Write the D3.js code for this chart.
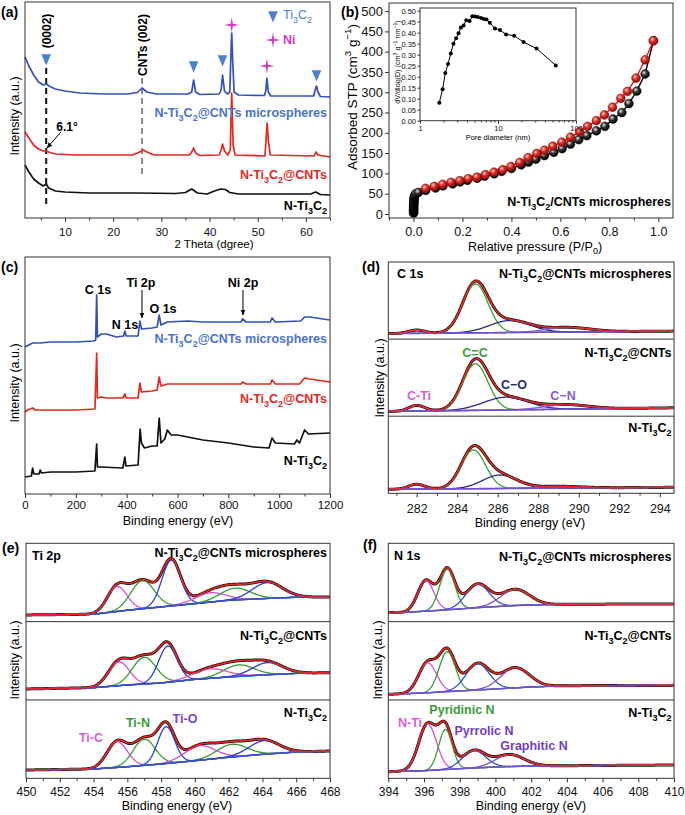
<!DOCTYPE html>
<html><head><meta charset="utf-8">
<script src="https://cdn.jsdelivr.net/npm/d3@7"></script>
<style>body{margin:0;background:#fff}</style>
</head><body><script>
const FONT = "'Liberation Sans', Arial, Helvetica, sans-serif";

// ================= DATA =================
// (a) XRD  [2theta, intensity a.u.]
const xrdTicks = [10, 20, 30, 40, 50, 60];
const xrdMinor = [5, 15, 25, 35, 45, 55, 65];
const xrdBlue = [[1.7,161],[2.5,152],[3.5,143],[4.5,136],[5.5,133],[6.1,134],[6.7,132],[8,129],[10,127],[13,125],[18,124],[23,124],[25,125.5],[26,130],[27,126],[29,124],[35.5,124],[36.3,126],[36.7,138],[37.1,126],[38,123.5],[42,124],[42.4,128],[42.7,143],[43.1,127],[43.7,124],[44.2,126],[44.5,173],[44.6,185],[44.8,158],[45.1,126],[46,123],[51.4,122.5],[51.7,128],[51.9,140],[52.2,126],[52.7,122],[61.6,122],[62,129],[62.2,132],[62.5,126],[63,121.5],[65,121]];
const xrdRed = [[1.7,86],[2.5,80],[3.5,73],[4.5,69],[5.5,67],[6.1,67],[6.6,66],[8,64],[12,63],[24,63],[25.5,66],[26.2,68],[27,66],[28.5,63],[35.8,63],[36.3,66],[36.7,70],[37.1,65],[38,62.5],[42,63],[42.4,68],[42.7,74],[43.1,67],[43.8,63],[44.3,68],[44.6,125],[44.9,73],[45.3,63],[51.5,62],[51.8,83],[51.95,95],[52.2,78],[52.6,63],[61.7,62],[62.1,66],[62.5,63],[65,61]];
const xrdBlack = [[1.7,53],[2.5,46],[3.5,39],[4.5,35],[5.5,32],[6.1,34],[6.6,30],[8,27],[10,26],[15,25],[25,25],[33,24.5],[35,25.5],[36.3,29],[37.5,25],[39.5,24],[41,27],[42.3,29],[43.3,28.5],[44.2,25.5],[46,24],[55,24],[61,24],[62,26],[63,23.5],[65,23]];
const xrdTi3C2Marks = [[6.1,160],[36.7,153],[42.7,159],[62.2,144]];
const xrdNiMarks = [[44.6,193],[51.9,152]];
const xrdDash0002 = [6.1, 150, 13];
const xrdDashCNT = [26, 140, 41];

// (b) N2 isotherm [P/P0, cm3/g]
const isoTicksX = [0, 0.2, 0.4, 0.6, 0.8, 1.0];
const isoMinorX = [-0.1, 0.1, 0.3, 0.5, 0.7, 0.9];
const isoTicksY = [0,50,100,150,200,250,300,350,400,450,500];
const isoAds = [[0.0005,2],[0.0005,5],[0.0006,8],[0.0006,11],[0.0007,14],[0.0008,17],[0.0009,20],[0.001,23],[0.0012,26],[0.0014,29],[0.0016,32],[0.0019,35],[0.0023,38],[0.003,41],[0.004,44],[0.006,47],[0.01,50],[0.02,53],[0.05,58],[0.09,64],[0.12,69],[0.16,74],[0.19,79],[0.22,83],[0.26,88],[0.29,93],[0.33,99],[0.36,105],[0.40,112],[0.44,121],[0.47,128],[0.50,135],[0.535,144],[0.573,152],[0.607,161],[0.641,172],[0.675,183],[0.708,193],[0.747,205],[0.782,216],[0.815,234],[0.851,250],[0.88,272],[0.912,303],[0.946,345],[0.98,427]];
const isoDes = [[0.98,427],[0.946,380],[0.909,335],[0.874,302],[0.847,285],[0.813,263],[0.78,244],[0.747,230],[0.711,216],[0.678,203],[0.641,189],[0.606,177],[0.569,167],[0.535,157],[0.503,149],[0.468,139],[0.434,127],[0.398,117],[0.365,109],[0.329,103],[0.294,97],[0.259,91],[0.224,87],[0.189,82],[0.153,78],[0.119,73],[0.085,68],[0.049,63]];
// inset: pore size distribution [nm, dV/dlogD]
const psdTicksY = [0,0.05,0.10,0.15,0.20,0.25,0.30,0.35,0.40,0.45,0.50];
const psdTicksX = [1, 10, 100];
const psd = [[1.77,0.082],[1.95,0.143],[2.11,0.217],[2.29,0.258],[2.48,0.305],[2.68,0.35],[2.9,0.375],[3.12,0.397],[3.34,0.423],[3.62,0.433],[3.92,0.456],[4.33,0.453],[4.69,0.474],[5.08,0.473],[5.5,0.471],[6.07,0.467],[6.58,0.462],[7.13,0.46],[7.87,0.445],[9.14,0.419],[10.6,0.412],[12.7,0.392],[16.1,0.386],[21.3,0.357],[31.2,0.328],[55,0.251]];

// (c) XPS survey [eV, intensity a.u.]
const surveyTicks = [0,200,400,600,800,1000,1200];
const surveyMinor = [100,300,500,700,900,1100];
const surveyBlue = [[0,147],[15,149],[30,151],[60,151],[100,152],[200,152],[270,153],[278,154],[282,199],[285,157],[300,160],[320,160],[360,157],[388,158],[393,163],[398,158],[445,158],[452,173],[458,165],[500,166],[520,167],[528,179],[535,169],[560,172],[640,173],[700,172],[850,172],[856,175],[870,172],[965,172],[972,176],[985,172],[1085,173],[1100,177],[1120,177],[1200,174]];
const surveyRed = [[0,82],[10,84],[30,86],[40,84],[100,84],[200,84],[275,85],[282,141],[285,96],[300,97],[320,96],[385,96],[393,100],[398,96],[445,96],[452,111],[458,102],[500,103],[520,104],[528,117],[535,108],[560,110],[640,110],[850,110],[856,112],[870,110],[965,110],[972,114],[985,110],[1080,110],[1100,116],[1120,115],[1200,112]];
const surveyBlack = [[0,17],[25,18],[30,26],[35,20],[55,20],[60,24],[65,21],[100,22],[200,22],[275,23],[282,50],[285,27],[300,27],[385,26],[393,37],[397,28],[445,29],[453,65],[458,51],[470,46],[500,48],[520,48],[528,76],[535,51],[550,55],[560,64],[575,59],[600,59],[700,54],[800,51],[900,47],[960,46],[972,56],[985,51],[1060,50],[1070,54],[1080,51],[1100,64],[1115,60],[1200,61]];

// (d) C 1s fits: sub-panels top->bottom ; components C-Ti, C=C, C-O, C-N
const c1sTicks = [282,284,286,288,290,292,294];
const c1sMinor = [281,283,285,287,289,291,293];
const c1sCenters = [[282.0,284.9,286.6,289.5],[282.0,284.9,286.4,289.4],[282.0,284.8,286.1,289.0]];
const c1sHeights = [[3.3,49,12,4.5],[5.7,46.6,12.8,4.4],[4.8,38.7,13.5,1.8]];
const c1sSigmas  = [[0.4,0.62,1.0,1.1],[0.4,0.62,1.1,1.1],[0.4,0.6,0.85,1.1]];
const c1sBg = [[[280.6,5.5],[294.7,8]],[[280.6,4.7],[294.7,8.4]],[[280.6,4],[294.7,6]]];

// (e) Ti 2p fits; components Ti-C, Ti-N, Ti-O, Ti-C', Ti-N', Ti-O'
const ti2pTicks = [450,452,454,456,458,460,462,464,466,468];
const ti2pMinor = [451,453,455,457,459,461,463,465,467];
const ti2pCenters = [[455.4,456.9,458.6,460.9,462.4,464.3],[455.5,457.0,458.4,460.9,462.6,464.3],[455.4,457.0,458.3,460.3,462.2,464.1]];
const ti2pHeights = [[24.9,28,45.7,9.3,11.7,15.8],[23.7,26.6,36.2,9.4,11.4,12.1],[25.7,26.3,36.8,14.5,12.7,13.5]];
const ti2pSigmas  = [[0.58,0.7,0.55,0.9,0.9,0.9],[0.62,0.7,0.55,1.0,0.9,0.9],[0.6,0.65,0.5,0.9,0.9,0.9]];
const ti2pBg = [
  [[450,6.7],[454,7.4],[456,11.4],[458,14.7],[460,18],[462,21.4],[464,23],[466,24.4],[468,24.7]],
  [[450,11],[454,12.3],[456,15],[458,17],[460,20.6],[462,23],[464,25],[466,26.6],[468,27.3]],
  [[450,8.3],[454,9.3],[456,11.6],[458,14.3],[460,17.6],[462,21],[464,24],[466,26.3],[468,27.3]]];

// (f) N 1s fits; components N-Ti, pyridinic N, pyrrolic N, graphitic N
const n1sTicks = [394,396,398,400,402,404,406,408,410];
const n1sMinor = [395,397,399,401,403,405,407,409];
const n1sCenters = [[396.1,397.3,399.0,401.1],[396.2,397.3,399.0,401.1],[396.2,397.2,398.8,400.8]];
const n1sHeights = [[30.5,40.6,23.4,16.3],[30,40,26.3,20.2],[46.5,40,17.5,12]];
const n1sSigmas  = [[0.45,0.42,0.65,0.8],[0.5,0.45,0.65,0.8],[0.5,0.38,0.65,0.8]];
const n1sBg = [
  [[394,9],[395,9.3],[396,10.4],[397,11.4],[398,12.7],[399,14],[400,15],[401,16],[402,16.7],[404,17.4],[410,17.7]],
  [[394,5.6],[396,7],[398,9],[400,11],[402,13],[404,14.3],[410,14.6]],
  [[394,6.6],[396,7.6],[398,9.6],[400,11.3],[402,12.3],[404,12.6],[410,13.3]]];

// ================= STYLE =================
const BLUE_LINE = '#3350bd', BLUE_TXT = '#4a72d2', RED = '#e8261f', MAG = '#d63cc0', TRI = '#4a80d0';
const svg = d3.select('body').append('svg').attr('width', 685).attr('height', 815)
  .style('font-family', FONT);
const defs = svg.append('defs');
defs.append('marker').attr('id','arr').attr('viewBox','0 0 10 10').attr('refX',9).attr('refY',5)
  .attr('markerWidth',6).attr('markerHeight',6).attr('orient','auto-start-reverse')
  .append('path').attr('d','M0,1L10,5L0,9z').attr('fill','#000');

function rich(g, x, yc, s, o = {}) {
  const fs = o.size || 12;
  const y = yc + fs * 0.35;
  const t = g.append('text').attr('x', x).attr('y', y)
    .attr('font-family', FONT).attr('font-size', fs)
    .attr('font-weight', o.bold ? 'bold' : 'normal')
    .attr('fill', o.color || '#000')
    .attr('text-anchor', o.anchor || 'start');
  const parts = []; const re = /([_^])\{([^}]*)\}|([_^])(.)|([^_^]+)/g; let m;
  while ((m = re.exec(s))) {
    if (m[5] !== undefined) parts.push([m[5], 0]);
    else if (m[1]) parts.push([m[2], m[1] === '_' ? 1 : -1]);
    else parts.push([m[4], m[3] === '_' ? 1 : -1]);
  }
  let cur = 0;
  parts.forEach(([txt, k]) => {
    const off = k === 1 ? fs * 0.28 : k === -1 ? -fs * 0.4 : 0;
    t.append('tspan').attr('dy', off - cur).attr('font-size', k ? fs * 0.72 : fs).text(txt);
    cur = off;
  });
  if (o.rotate) t.attr('transform', `rotate(${o.rotate},${x},${yc})`);
  return t;
}
function styleAxis(a, fs) {
  a.select('.domain').remove();
  a.selectAll('line').attr('stroke', '#333');
  a.selectAll('text').attr('font-family', FONT).attr('font-size', fs).attr('fill', '#111');
}
function bottomAxis(g, x, y0, majors, minors, fmt, labelC, fs) {
  const pad = labelC - y0 - 4 - 0.36 * fs;
  const a = g.append('g').attr('transform', `translate(0,${y0})`)
    .call(d3.axisBottom(x).tickValues(majors).tickSize(4).tickPadding(pad).tickFormat(fmt));
  styleAxis(a, fs);
  const b = g.append('g').attr('transform', `translate(0,${y0})`)
    .call(d3.axisBottom(x).tickValues(minors).tickSize(2.5).tickFormat(''));
  styleAxis(b, fs);
}
function frame(g, l, t, r, b) {
  g.append('rect').attr('x', l).attr('y', t).attr('width', r - l).attr('height', b - t)
    .attr('fill', 'none').attr('stroke', '#333').attr('stroke-width', 1);
}
const SER1 = 'N-Ti_3C_2@CNTs microspheres', SER2 = 'N-Ti_3C_2@CNTs', SER3 = 'N-Ti_3C_2';

// ================= (a) XRD =================
{
  const g = svg.append('g');
  const L = 25, R = 330, T = 2, B = 218;
  const x = d3.scaleLinear().domain([1.7, 65]).range([L, R]);
  const y = d3.scaleLinear().domain([0, 216]).range([B, T]);
  const line = d3.line().x(d => x(d[0])).y(d => y(d[1]));
  g.append('line').attr('x1', x(xrdDash0002[0])).attr('x2', x(xrdDash0002[0]))
    .attr('y1', y(xrdDash0002[1])).attr('y2', y(xrdDash0002[2]))
    .attr('stroke', '#111').attr('stroke-width', 2).attr('stroke-dasharray', '6,4');
  g.append('line').attr('x1', x(xrdDashCNT[0])).attr('x2', x(xrdDashCNT[0]))
    .attr('y1', y(xrdDashCNT[1])).attr('y2', y(xrdDashCNT[2]))
    .attr('stroke', '#666').attr('stroke-width', 1.5).attr('stroke-dasharray', '6,4');
  [[xrdBlack, '#111'], [xrdRed, RED], [xrdBlue, BLUE_LINE]].forEach(([d, c]) =>
    g.append('path').attr('d', line(d)).attr('fill', 'none').attr('stroke', c).attr('stroke-width', 1.7).attr('stroke-linejoin', 'round'));
  frame(g, L, T, R, B);
  bottomAxis(g, x, B, xrdTicks, xrdMinor.filter(v => v <= 65), d3.format('d'), 232, 11.5);
  const tri = d3.symbol(d3.symbolTriangle, 55);
  xrdTi3C2Marks.forEach(d => g.append('path').attr('d', tri())
    .attr('transform', `translate(${x(d[0])},${y(d[1])}) rotate(180) scale(0.85,1.15)`).attr('fill', TRI));
  const star = (cx, cy, ro, ri) => {
    let p = '';
    for (let i = 0; i < 8; i++) { const a = i * Math.PI / 4 - Math.PI / 2; const r = i % 2 ? ri : ro;
      p += (i ? 'L' : 'M') + (cx + r * Math.cos(a)).toFixed(2) + ',' + (cy + r * Math.sin(a)).toFixed(2); }
    return p + 'Z';
  };
  xrdNiMarks.forEach(d => g.append('path').attr('d', star(x(d[0]), y(d[1]), 7.5, 1.6)).attr('fill', MAG));
  // legend
  g.append('path').attr('d', tri()).attr('transform', `translate(273,15) rotate(180) scale(0.85,1.15)`).attr('fill', TRI);
  rich(g, 283, 15, 'Ti_3C_2', { size: 12.5, color: TRI });
  g.append('path').attr('d', star(273, 40, 7.5, 1.6)).attr('fill', MAG);
  rich(g, 283, 40, 'Ni', { size: 12.5, bold: true, color: MAG });
  rich(g, 47, 31, '(0002)', { size: 12, bold: true, anchor: 'middle', rotate: -90 });
  rich(g, 143, 45, 'CNTs (002)', { size: 12, bold: true, anchor: 'middle', rotate: -90 });
  rich(g, 67, 127, '6.1°', { size: 12, bold: true, anchor: 'middle' });
  g.append('line').attr('x1', 61).attr('y1', 132).attr('x2', 47).attr('y2', 148)
    .attr('stroke', '#000').attr('stroke-width', 1).attr('marker-end', 'url(#arr)');
  rich(g, 327, 113, SER1, { size: 12.5, bold: true, anchor: 'end', color: BLUE_TXT });
  rich(g, 327, 175, SER2, { size: 12.5, bold: true, anchor: 'end', color: RED });
  rich(g, 327, 206, SER3, { size: 12.5, bold: true, anchor: 'end' });
  rich(g, 15, 116, 'Intensity (a.u.)', { size: 12.5, anchor: 'middle', rotate: -90 });
  rich(g, 214, 244, '2 Theta (dgree)', { size: 11.5, anchor: 'middle' });
  rich(g, 1, 12, '(a)', { size: 14, bold: true });
}

// ================= (b) isotherm =================
{
  const g = svg.append('g');
  const L = 389, R = 673, T = 3, B = 218;
  const x = d3.scaleLinear().domain([-0.1, 1.06]).range([L, R]);
  const y = d3.scaleLinear().domain([-10, 520]).range([B, T]);
  const line = d3.line().x(d => x(d[0])).y(d => y(d[1]));
  const mkGrad = (id, c0, c1, c2) => {
    const gr = defs.append('radialGradient').attr('id', id).attr('cx', '38%').attr('cy', '35%').attr('r', '65%');
    gr.append('stop').attr('offset', '0%').attr('stop-color', c0);
    gr.append('stop').attr('offset', '45%').attr('stop-color', c1);
    gr.append('stop').attr('offset', '100%').attr('stop-color', c2);
  };
  mkGrad('gBlack', '#e8e8e8', '#333', '#000');
  mkGrad('gRed', '#ffd0d0', '#e02a20', '#8a0e0a');
  g.append('path').attr('d', line(isoAds)).attr('fill', 'none').attr('stroke', '#000').attr('stroke-width', 1.4);
  g.selectAll('.ba').data(isoAds).enter().append('circle').attr('cx', d => x(d[0])).attr('cy', d => y(d[1]))
    .attr('r', 4.4).attr('fill', 'url(#gBlack)').attr('stroke', '#000').attr('stroke-width', 0.5);
  g.append('path').attr('d', line(isoDes)).attr('fill', 'none').attr('stroke', '#d8201a').attr('stroke-width', 1.4);
  g.selectAll('.bd').data(isoDes).enter().append('circle').attr('cx', d => x(d[0])).attr('cy', d => y(d[1]))
    .attr('r', 4.4).attr('fill', 'url(#gRed)').attr('stroke', '#7a0c08').attr('stroke-width', 0.5);
  frame(g, L, T, R, B);
  bottomAxis(g, x, B, isoTicksX, isoMinorX, d3.format('.1f'), 231.5, 12.5);
  const ya = g.append('g').attr('transform', `translate(${L},0)`)
    .call(d3.axisLeft(y).tickValues(isoTicksY).tickSize(4).tickPadding(2).tickFormat(d3.format('d')));
  styleAxis(ya, 13);
  rich(g, 535, 246.5, 'Relative pressure (P/P_0)', { size: 12.5, anchor: 'middle' });
  rich(g, 352, 97, 'Adsorbed STP (cm^3 g^{−1})', { size: 13.5, anchor: 'middle', rotate: -90 });
  rich(g, 671, 202, 'N-Ti_3C_2/CNTs microspheres', { size: 12.5, bold: true, anchor: 'end' });
  rich(g, 341, 12, '(b)', { size: 14, bold: true });
  // inset
  const iL = 420, iR = 576, iT = 8, iB = 120.7;
  const ix = d3.scaleLog().domain([1, 100]).range([iL, iR]);
  const iy = d3.scaleLinear().domain([0, 0.512]).range([iB, iT]);
  g.append('rect').attr('x', iL).attr('y', iT).attr('width', iR - iL).attr('height', iB - iT).attr('fill', '#fff');
  const il = d3.line().x(d => ix(d[0])).y(d => iy(d[1]));
  g.append('path').attr('d', il(psd)).attr('fill', 'none').attr('stroke', '#000').attr('stroke-width', 1);
  g.selectAll('.ps').data(psd).enter().append('circle').attr('cx', d => ix(d[0])).attr('cy', d => iy(d[1])).attr('r', 2).attr('fill', '#000');
  frame(g, iL, iT, iR, iB);
  const ixa = g.append('g').attr('transform', `translate(0,${iB})`)
    .call(d3.axisBottom(ix).tickValues(psdTicksX).tickSize(3).tickPadding(2).tickFormat(d3.format('d')));
  styleAxis(ixa, 7.5);
  const minorLog = [];
  [1, 10].forEach(dec => { for (let k = 2; k <= 9; k++) minorLog.push(dec * k); });
  const ixm = g.append('g').attr('transform', `translate(0,${iB})`)
    .call(d3.axisBottom(ix).tickValues(minorLog).tickSize(1.8).tickFormat(''));
  styleAxis(ixm, 7.5);
  const iya = g.append('g').attr('transform', `translate(${iL},0)`)
    .call(d3.axisLeft(iy).tickValues(psdTicksY).tickSize(2.5).tickPadding(1.5).tickFormat(d3.format('.2f')));
  styleAxis(iya, 7.5);
  rich(g, 498, 137, 'Pore diameter (nm)', { size: 7.5, anchor: 'middle' });
  rich(g, 397, 62, 'dV/dlog(D) (cm^3 g^{−1} nm^{−1})', { size: 7.2, anchor: 'middle', rotate: -90 });
}

// ================= (c) survey =================
{
  const g = svg.append('g');
  const L = 25, R = 330, T = 257, B = 494;
  const x = d3.scaleLinear().domain([0, 1200]).range([L, R]);
  const y = d3.scaleLinear().domain([0, 237]).range([B, T]);
  const line = d3.line().x(d => x(d[0])).y(d => y(d[1]));
  [[surveyBlack, '#111'], [surveyRed, RED], [surveyBlue, BLUE_LINE]].forEach(([d, c]) =>
    g.append('path').attr('d', line(d)).attr('fill', 'none').attr('stroke', c).attr('stroke-width', 1.7).attr('stroke-linejoin', 'round'));
  frame(g, L, T, R, B);
  bottomAxis(g, x, B, surveyTicks, surveyMinor, d3.format('d'), 505, 11.5);
  rich(g, 98, 290, 'C 1s', { size: 12.5, bold: true, anchor: 'middle' });
  rich(g, 125, 325, 'N 1s', { size: 12.5, bold: true, anchor: 'middle' });
  rich(g, 141, 283, 'Ti 2p', { size: 12.5, bold: true, anchor: 'middle' });
  rich(g, 163, 309, 'O 1s', { size: 12.5, bold: true, anchor: 'middle' });
  rich(g, 243, 283, 'Ni 2p', { size: 12.5, bold: true, anchor: 'middle' });
  g.append('line').attr('x1', 142).attr('x2', 142).attr('y1', 290).attr('y2', 318).attr('stroke', '#000').attr('marker-end', 'url(#arr)');
  g.append('line').attr('x1', 243).attr('x2', 243).attr('y1', 290).attr('y2', 315).attr('stroke', '#000').attr('marker-end', 'url(#arr)');
  rich(g, 327, 339, SER1, { size: 12.5, bold: true, anchor: 'end', color: BLUE_TXT });
  rich(g, 327, 399, SER2, { size: 12.5, bold: true, anchor: 'end', color: RED });
  rich(g, 327, 461, SER3, { size: 12.5, bold: true, anchor: 'end' });
  rich(g, 15, 383, 'Intensity (a.u.)', { size: 12.5, anchor: 'middle', rotate: -90 });
  rich(g, 178, 521, 'Binding energy (eV)', { size: 12.5, anchor: 'middle' });
  rich(g, 1, 267, '(c)', { size: 14, bold: true });
}

// ================= XPS fit panels =================
function xpsPanel(c) {
  const g = svg.append('g');
  const x = d3.scaleLinear().domain(c.domain).range([c.L, c.R]);
  const n = c.centers.length, h = (c.B - c.T) / n;
  const grid = d3.range(c.domain[0], c.domain[1] + 1e-9, 0.04);
  for (let i = 0; i < n; i++) {
    const b = c.T + h * (i + 1);
    const y = d3.scaleLinear().domain([0, h]).range([b, b - h]);
    const bgS = d3.scaleLinear().domain(c.bg[i].map(d => d[0])).range(c.bg[i].map(d => d[1])).clamp(true);
    const comp = (k, e) => c.heights[i][k] * Math.exp(-((e - c.centers[i][k]) ** 2) / (2 * c.sigmas[i][k] ** 2));
    const line = d3.line().x(d => x(d[0])).y(d => y(d[1]));
    const cid = c.id + i;
    defs.append('clipPath').attr('id', cid).append('rect').attr('x', c.L).attr('y', b - h).attr('width', c.R - c.L).attr('height', h);
    const sg = g.append('g').attr('clip-path', `url(#${cid})`);
    const fit = grid.map(e => [e, bgS(e) + d3.sum(c.centers[i], (_, k) => comp(k, e))]);
    sg.append('path').attr('d', line(fit)).attr('fill', 'none').attr('stroke', '#111').attr('stroke-width', 3);
    c.centers[i].forEach((_, k) => {
      sg.append('path').attr('d', line(grid.map(e => [e, bgS(e) + comp(k, e)])))
        .attr('fill', 'none').attr('stroke', c.colors[k]).attr('stroke-width', 1.3);
    });
    sg.append('path').attr('d', line(grid.map(e => [e, bgS(e)]))).attr('fill', 'none').attr('stroke', c.bgColor).attr('stroke-width', 1.6);
    sg.append('path').attr('d', line(fit)).attr('fill', 'none').attr('stroke', RED).attr('stroke-width', 1.6);
    if (i > 0) g.append('line').attr('x1', c.L).attr('x2', c.R).attr('y1', c.T + h * i).attr('y2', c.T + h * i).attr('stroke', '#333');
  }
  frame(g, c.L, c.T, c.R, c.B);
  bottomAxis(g, x, c.B, c.ticks, c.minor, d3.format('d'), c.labelC, c.tickFs);
  return g;
}

// (d)
{
  const g = xpsPanel({ id: 'cd', L: 388.3, R: 674, T: 262, B: 493.3, domain: [280.6, 294.7],
    centers: c1sCenters, heights: c1sHeights, sigmas: c1sSigmas, bg: c1sBg,
    colors: ['#e050e0', '#3a9e3a', '#2a2a82', '#8a5ad8'], bgColor: '#6e52d2',
    ticks: c1sTicks, minor: c1sMinor, labelC: 509, tickFs: 12.5 });
  rich(g, 362, 267, '(d)', { size: 14, bold: true });
  rich(g, 397, 274, 'C 1s', { size: 12.5, bold: true });
  rich(g, 671.5, 274, SER1, { size: 12.5, bold: true, anchor: 'end' });
  rich(g, 671.5, 353, SER2, { size: 12.5, bold: true, anchor: 'end' });
  rich(g, 671.5, 428, SER3, { size: 12.5, bold: true, anchor: 'end' });
  rich(g, 475, 353, 'C=C', { size: 12.5, bold: true, anchor: 'middle', color: '#3a9e3a' });
  rich(g, 514, 385, 'C−O', { size: 12.5, bold: true, anchor: 'middle', color: '#2a2a82' });
  rich(g, 419, 396, 'C-Ti', { size: 12.5, bold: true, anchor: 'middle', color: '#d95fd6' });
  rich(g, 563, 396, 'C−N', { size: 12.5, bold: true, anchor: 'middle', color: '#8a5ad8' });
  rich(g, 380, 378, 'Intensity (a.u.)', { size: 12.5, anchor: 'middle', rotate: -90 });
  rich(g, 530, 523, 'Binding energy (eV)', { size: 12.5, anchor: 'middle' });
}
// (e)
{
  const g = xpsPanel({ id: 'ce', L: 26, R: 330, T: 543.3, B: 778.3, domain: [450, 468],
    centers: ti2pCenters, heights: ti2pHeights, sigmas: ti2pSigmas, bg: ti2pBg,
    colors: ['#d850d8', '#3a9a3a', '#2a40d0', '#d850d8', '#3a9a3a', '#2a40d0'], bgColor: '#3552d4',
    ticks: ti2pTicks, minor: ti2pMinor, labelC: 791.7, tickFs: 12 });
  rich(g, 2, 548, '(e)', { size: 14, bold: true });
  rich(g, 32, 556, 'Ti 2p', { size: 12.5, bold: true });
  rich(g, 327, 553, SER1, { size: 12.5, bold: true, anchor: 'end' });
  rich(g, 327, 636, SER2, { size: 12.5, bold: true, anchor: 'end' });
  rich(g, 327, 713, SER3, { size: 12.5, bold: true, anchor: 'end' });
  rich(g, 91, 738, 'Ti-C', { size: 12.5, bold: true, anchor: 'middle', color: '#d95fd6' });
  rich(g, 138, 723, 'Ti-N', { size: 12.5, bold: true, anchor: 'middle', color: '#3a9a3a' });
  rich(g, 185, 719, 'Ti-O', { size: 12.5, bold: true, anchor: 'middle', color: '#7a45c8' });
  rich(g, 15, 660, 'Intensity (a.u.)', { size: 12.5, anchor: 'middle', rotate: -90 });
  rich(g, 177, 806, 'Binding energy (eV)', { size: 12.5, anchor: 'middle' });
}
// (f)
{
  const g = xpsPanel({ id: 'cf', L: 388.3, R: 674, T: 543.3, B: 778.3, domain: [394, 410],
    centers: n1sCenters, heights: n1sHeights, sigmas: n1sSigmas, bg: n1sBg,
    colors: ['#d850d8', '#3a9a3a', '#3050c8', '#8050d0'], bgColor: '#6a55d2',
    ticks: n1sTicks, minor: n1sMinor, labelC: 791.7, tickFs: 12 });
  rich(g, 363, 545, '(f)', { size: 14, bold: true });
  rich(g, 394, 556, 'N 1s', { size: 12.5, bold: true });
  rich(g, 671.5, 557, SER1, { size: 12.5, bold: true, anchor: 'end' });
  rich(g, 671.5, 636, SER2, { size: 12.5, bold: true, anchor: 'end' });
  rich(g, 671.5, 713, SER3, { size: 12.5, bold: true, anchor: 'end' });
  rich(g, 462, 710, 'Pyridinic N', { size: 12.5, bold: true, anchor: 'middle', color: '#3a9a3a' });
  rich(g, 410, 723, 'N-Ti', { size: 12.5, bold: true, anchor: 'middle', color: '#d95fd6' });
  rich(g, 484, 731, 'Pyrrolic N', { size: 12.5, bold: true, anchor: 'middle', color: '#7040c8' });
  rich(g, 534, 746, 'Graphitic N', { size: 12.5, bold: true, anchor: 'middle', color: '#7040c8' });
  rich(g, 378, 660, 'Intensity (a.u.)', { size: 12.5, anchor: 'middle', rotate: -90 });
  rich(g, 531, 806, 'Binding energy (eV)', { size: 12.5, anchor: 'middle' });
}
</script></body></html>
